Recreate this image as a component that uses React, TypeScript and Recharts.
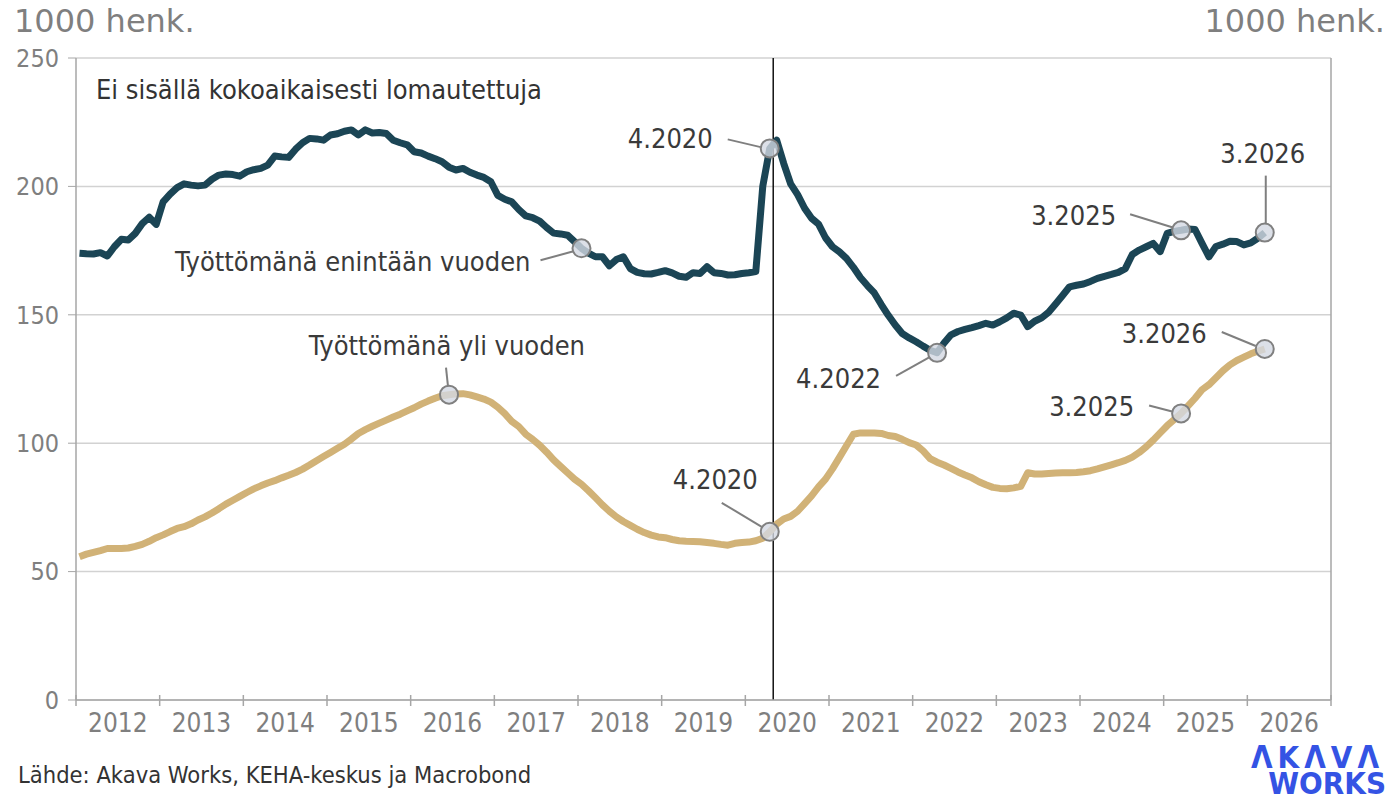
import { LineChart, Line, XAxis, YAxis, CartesianGrid, ReferenceLine, ReferenceDot } from 'recharts';

const alkuVuosi = 2012;
// Työttömänä enintään vuoden, 1000 henk., kuukausittain 1.2012–3.2026
const enintaanVuoden = [
  174, 173.8, 173.7, 174.2, 172.9, 176.5, 179.4, 179.1, 181.7, 185.5, 188, 185.2,
  194, 197, 199.5, 201, 200.5, 200.2, 200.5, 202.8, 204.4, 204.8, 204.6, 204,
  205.7, 206.5, 207, 208.3, 211.8, 211.5, 211.3, 214.5, 217, 218.7, 218.5, 218,
  220, 220.5, 221.5, 222, 220, 222, 220.8, 221, 220.6, 218, 217, 216.2,
  213.5, 213, 211.8, 210.8, 209.6, 207.5, 206.4, 207, 205.5, 204.4, 203.5, 201.8,
  196.5, 195, 194, 191, 188.5, 187.8, 186.5, 184, 181.8, 181.5, 181, 178.5,
  175.9, 174, 172.6, 172.6, 169.1, 171.5, 172.6, 168, 166.5, 166, 165.9, 166.5,
  167.2, 166.3, 165, 164.6, 166.4, 166.1, 168.7, 166.4, 166.1, 165.5, 165.6, 166.1,
  166.4, 166.8, 200, 214.8, 218, 209, 201, 196.8, 191.5, 187.6, 185.3, 180,
  176.5, 174.5, 172, 168.5, 164.5, 161.4, 158.5, 154, 149.8, 146, 142.7, 141,
  139.5, 137.8, 136.2, 135.2, 139, 142.2, 143.5, 144.3, 145, 145.8, 146.7, 146,
  147.3, 148.8, 150.6, 149.9, 145.4, 147.5, 148.8, 151, 154.2, 157.5, 160.9, 161.5,
  162, 163, 164.2, 165, 165.7, 166.5, 168, 173.5, 175.2, 176.5, 177.8, 174.6,
  181.7, 182.5, 182.9, 183.4, 183.2, 177.8, 172.6, 176.6, 177.5, 178.6, 178.5, 177.2,
  178, 179.8, 182,
];
// Työttömänä yli vuoden
const yliVuoden = [
  55.8, 56.8, 57.5, 58.2, 59, 59, 59, 59.2, 59.8, 60.6, 61.8, 63.2,
  64.3, 65.6, 66.8, 67.5, 68.6, 70.1, 71.3, 72.8, 74.5, 76.3, 77.8, 79.3,
  80.8, 82.2, 83.4, 84.5, 85.4, 86.5, 87.5, 88.6, 89.9, 91.5, 93.2, 94.8,
  96.4, 98, 99.6, 101.6, 103.8, 105.3, 106.6, 107.8, 109, 110.2, 111.3, 112.6,
  113.8, 115.2, 116.4, 117.5, 118.5, 118.9, 119.2, 119.3, 118.8, 118, 117.2, 116,
  114, 111.5, 108.5, 106.5, 103.5, 101.5, 99.2, 96.5, 93.5, 91, 88.5, 86,
  84, 81.5, 78.8, 76, 73.5, 71.3, 69.5, 68, 66.5, 65.2, 64.2, 63.5,
  63.2, 62.5, 62, 61.8, 61.7, 61.6, 61.3, 61, 60.6, 60.3, 61, 61.3,
  61.5, 62, 63, 65.5, 68.5, 70.5, 71.5, 73.5, 76.5, 79.5, 83, 86,
  90, 94.5, 99, 103.5, 104, 104, 104, 103.8, 103, 102.6, 101.5, 100.2,
  99.3, 97, 94, 92.6, 91.5, 90.2, 88.8, 87.6, 86.5, 85, 83.8, 82.8,
  82.4, 82.3, 82.6, 83.2, 88.5, 88, 88, 88.2, 88.4, 88.5, 88.5, 88.6,
  88.9, 89.3, 90, 90.8, 91.6, 92.4, 93.3, 94.6, 96.4, 98.6, 101.2, 104,
  106.8, 109.2, 111.6, 114.5, 117.5, 120.8, 122.8, 125.5, 128.2, 130.5, 132.2, 133.5,
  134.8, 135.8, 136.7,
];
const vuodet = [2012, 2013, 2014, 2015, 2016, 2017, 2018, 2019, 2020, 2021, 2022, 2023, 2024, 2025, 2026];
const vuosiRajat = [...vuodet, 2027];
const yTicks = [0, 50, 100, 150, 200, 250];
const koronaRaja = 2020 + 4 / 12;

const merkinnat = [
  { sarja: 'lyhyt', kk: '4.2020', teksti: '4.2020', tx: -57, ty: 0, anchor: 'end', l: [-42, -9, -8, -1] },
  { sarja: 'lyhyt', kk: '4.2022', teksti: '4.2022', tx: -56, ty: 35, anchor: 'end', l: [-41, 23, -7, 4] },
  { sarja: 'lyhyt', kk: '3.2025', teksti: '3.2025', tx: -65, ty: -5, anchor: 'end', l: [-51, -16, -9, -3] },
  { sarja: 'lyhyt', kk: '3.2026', teksti: '3.2026', tx: -2, ty: -70, anchor: 'middle', l: [1, -57, 1, -9] },
  { sarja: 'pitka', kk: '4.2020', teksti: '4.2020', tx: -12, ty: -43, anchor: 'end', l: [-48, -29, -8, -5] },
  { sarja: 'pitka', kk: '3.2025', teksti: '3.2025', tx: -47, ty: 3, anchor: 'end', l: [-32, -8, -9, -2] },
  { sarja: 'pitka', kk: '3.2026', teksti: '3.2026', tx: -58, ty: -6, anchor: 'end', l: [-43, -17, -9, -3] },
  { sarja: 'lyhyt', kk: '1.2018', teksti: 'Työttömänä enintään vuoden', tx: -51, ty: 23, anchor: 'end', l: [-41, 12, -8, 3] },
  { sarja: 'pitka', kk: '6.2016', teksti: 'Työttömänä yli vuoden', tx: 136, ty: -40, anchor: 'end', l: [-3, -27, -1, -8] },
];

const data = enintaanVuoden.map((v, i) => ({
  t: alkuVuosi + (i + 0.5) / 12,
  lyhyt: v,
  pitka: yliVuoden[i],
}));

const fontti = "'DejaVu Sans Condensed', 'DejaVu Sans', sans-serif";
const harmaa = '#7f7f7f';
const akseli = '#a6a6a6';
const vuosiPx = (1331 - 76) / 15;

function indeksi(kk: string) {
  const [m, y] = kk.split('.').map(Number);
  return (y - alkuVuosi) * 12 + (m - 1);
}

function Merkki(props: any) {
  const { cx, cy, m } = props;
  if (cx == null || cy == null) return null;
  const [x1, y1, x2, y2] = m.l;
  return (
    <g>
      <line x1={cx + x1} y1={cy + y1} x2={cx + x2} y2={cy + y2} stroke="#7f7f7f" strokeWidth={2} />
      <circle cx={cx} cy={cy} r={9} fill="#d3d8e2" fillOpacity={0.8} stroke="#808080" strokeWidth={2} />
      <text x={cx + m.tx} y={cy + m.ty} textAnchor={m.anchor} fontFamily={fontti} fontSize={27} fill="#3a3a3a">
        {m.teksti}
      </text>
    </g>
  );
}

function VuosiTick(props: any) {
  const { x, y, payload } = props;
  const v = payload.value;
  return (
    <g>
      <line x1={x} y1={y - 5} x2={x} y2={y + 6} stroke={akseli} strokeWidth={1.5} />
      {v < 2027 && (
        <text x={x + vuosiPx / 2} y={y + 32} textAnchor="middle" fontFamily={fontti} fontSize={26} fill={harmaa}>
          {v}
        </text>
      )}
    </g>
  );
}

export default function App() {
  return (
    <div style={{ position: 'absolute', left: 0, top: 0, width: 1389, height: 801, background: '#fff' }}>
      <LineChart width={1389} height={801} data={data} margin={{ top: 58, right: 0, bottom: 61, left: 16 }}>
        <CartesianGrid yAxisId="l" xAxisId="x" vertical={false} stroke="#d2d2d2" strokeWidth={1.5} />
        <XAxis xAxisId="x" dataKey="t" type="number" domain={[2012, 2027]} ticks={vuosiRajat}
          tick={<VuosiTick />} tickLine={false} tickSize={0} tickMargin={0}
          axisLine={{ stroke: akseli, strokeWidth: 1.5 }} height={40} interval={0} />
        <YAxis yAxisId="l" domain={[0, 250]} ticks={yTicks} width={60} tickSize={8} tickMargin={9}
          axisLine={{ stroke: akseli, strokeWidth: 1.5 }} tickLine={{ stroke: akseli }}
          tick={{ fill: harmaa, fontSize: 25, fontFamily: fontti }} interval={0} />
        <YAxis yAxisId="r" orientation="right" domain={[0, 250]} ticks={yTicks} width={58} tickSize={7} tickMargin={7}
          axisLine={{ stroke: akseli, strokeWidth: 1.5 }} tickLine={{ stroke: akseli }}
          tick={{ fill: harmaa, fontSize: 25, fontFamily: fontti }} interval={0} />
        <ReferenceLine xAxisId="x" yAxisId="l" x={koronaRaja} stroke="#111" strokeWidth={1.5} />
        <Line xAxisId="x" yAxisId="l" dataKey="pitka" type="linear" stroke="#d1b277" strokeWidth={7}
          dot={false} isAnimationActive={false} strokeLinejoin="round" />
        <Line xAxisId="x" yAxisId="l" dataKey="lyhyt" type="linear" stroke="#1b4555" strokeWidth={7}
          dot={false} isAnimationActive={false} strokeLinejoin="round" />
        {merkinnat.map((m, i) => {
          const rivi: any = data[indeksi(m.kk)];
          return (
            <ReferenceDot key={i} xAxisId="x" yAxisId="l" x={rivi.t} y={rivi[m.sarja]} r={9}
              shape={(p: any) => <Merkki {...p} m={m} />} />
          );
        })}
      </LineChart>
      <svg width={1389} height={801} style={{ position: 'absolute', left: 0, top: 0, pointerEvents: 'none' }}>
        <text x={14} y={32} fontFamily="'DejaVu Sans', sans-serif" fontSize={32} fill={harmaa}>1000 henk.</text>
        <text x={1385} y={32} textAnchor="end" fontFamily="'DejaVu Sans', sans-serif" fontSize={32} fill={harmaa}>1000 henk.</text>
        <text x={96} y={99} fontFamily={fontti} fontSize={27} fill="#333">Ei sisällä kokoaikaisesti lomautettuja</text>
        <text x={18} y={783} fontFamily={fontti} fontSize={23.5} fill="#333">Lähde: Akava Works, KEHA-keskus ja Macrobond</text>
        <text x={1384} y={768} textAnchor="end" fontFamily={fontti} fontWeight="bold" fontSize={31} fill="#3453e4" letterSpacing={5}>ΛKΛVΛ</text>
        <text x={1386} y={794} textAnchor="end" fontFamily={fontti} fontWeight="bold" fontSize={31} fill="#3453e4">WORKS</text>
      </svg>
    </div>
  );
}
